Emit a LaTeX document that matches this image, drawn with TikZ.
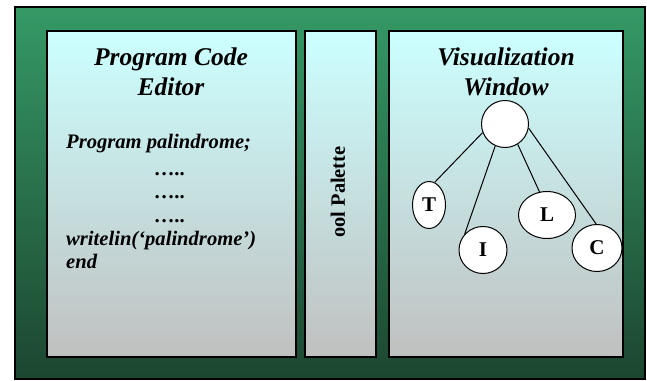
\documentclass[tikz,border=0pt]{standalone}
\usepackage{fontspec}
\setmainfont{Liberation Serif}
\usetikzlibrary{shapes.geometric}

\definecolor{framegreen}{HTML}{359966}
\definecolor{framedark}{HTML}{1C4630}
\definecolor{panelcyan}{HTML}{CCFFFF}
\definecolor{panelgray}{HTML}{C0C0C0}

\begin{document}
\begin{tikzpicture}[x=1pt,y=-1pt,
	  every node/.style={inner sep=0pt},
	  frame/.style={draw=black,line width=1.3pt,rectangle,top color=framegreen,bottom color=framedark},
	  panel/.style={draw=black,line width=1.5pt,rectangle,top color=panelcyan,bottom color=panelgray,minimum height=326pt},
	  title/.style={align=center,font=\fontsize{25.5}{30}\selectfont\bfseries\itshape},
	  code/.style={font=\fontsize{20.6}{24}\selectfont\bfseries\itshape},
	  palette/.style={rotate=90,font=\fontsize{20.4}{24}\selectfont\bfseries},
	  leaf/.style={draw=black,line width=1pt,fill=white,ellipse,minimum height=47pt,font=\fontsize{21}{24}\selectfont\bfseries},
	  branch/.style={draw=black,line width=1pt}]

	  \useasboundingbox (0,0) rectangle (647,380);

	  % frame and the three panels
	  \node[frame,minimum width=630pt,minimum height=372pt] (frame) at (330,193) {};
	  \node[panel,minimum width=249pt] (editor) at (171.5,194) {};
	  \node[panel,minimum width=71pt] (tools) at (340.5,194) {};
	  \node[panel,minimum width=234pt] (viewer) at (506,194) {};

	  % editor
	  \node[title] (editortitle) at (171,72) {Program Code\\Editor};
	  \node[code,anchor=base west] (line1) at (66,148) {Program palindrome;};
	  \foreach \y/\n in {175/2,198/3,222/4}
	    \node[code,anchor=base] (line\n) at (170,\y) {…..};
	  \node[code,anchor=base west] (line5) at (66,245) {writelin(‘palindrome’)};
	  \node[code,anchor=base west] (line6) at (66,268) {end};

	  % palette
	  \node[palette] (palettelabel) at (338,192) {ool Palette};

	  % visualization
	  \node[title] (viewertitle) at (506,72) {Visualization\\Window};
	  \node[leaf,minimum width=47pt] (root) at (505,124) {};
	  \node[leaf,minimum width=33pt] (t) at (429,205) {T};
	  \node[leaf,minimum width=48pt] (i) at (483,250) {I};
	  \node[leaf,minimum width=57pt] (l) at (547,215) {L};
	  \node[leaf,minimum width=50pt] (c) at (597,248) {C};

	  \draw[branch] (root.201) -- (t.76);
	  \draw[branch] (root.246) -- (i.139);
	  \draw[branch] (root.302) -- (l.108);
	  \draw[branch] (root.350) -- (c.92);
\end{tikzpicture}
\end{document}
